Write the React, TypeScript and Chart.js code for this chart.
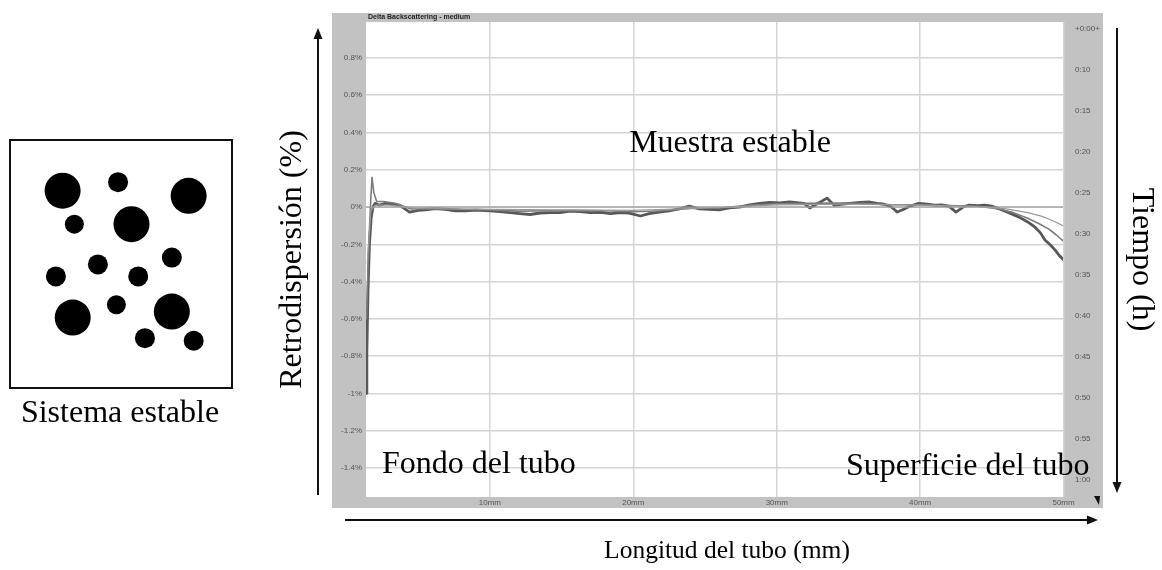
import React, { useEffect, useRef } from "react";
import { Chart, registerables } from "chart.js";

Chart.register(...registerables);

const SERIF = "'Liberation Serif', 'Times New Roman', Times, serif";
const SANS = "'Liberation Sans', Arial, sans-serif";

// ---- axis ticks / labels ----
const backscatterTicks = [0.8, 0.6, 0.4, 0.2, 0, -0.2, -0.4, -0.6, -0.8, -1, -1.2, -1.4];
const lengthTicks = [10, 20, 30, 40, 50];
const timeLabels = ["+0:00+", "0:10", "0:15", "0:20", "0:25", "0:30", "0:35", "0:40", "0:45", "0:50", "0:55", "1:00"];

// ---- scans: tube length (mm) vs delta backscattering (%) ----
const latestScanX = [
  1.36, 1.42, 1.5, 1.6, 1.72, 1.85, 2.0, 2.3, 2.7, 3.2,
  3.7, 4.4, 5.0, 5.5, 6.2, 6.9, 7.6, 8.3, 9.0, 10.0,
  10.7, 11.4, 12.1, 12.8, 13.5, 14.2, 14.9, 15.6, 16.3, 17.0,
  17.7, 18.4, 19.1, 19.7, 20.5, 21.1, 21.8, 22.5, 23.2, 23.9,
  24.6, 25.3, 26.0, 26.7, 27.4, 28.1, 28.8, 29.5, 30.2, 30.9,
  31.4, 31.9, 32.3, 32.9, 33.5, 34.0, 34.5, 35.1, 35.8, 36.5,
  37.0, 37.5, 38.0, 38.4, 38.9, 39.3, 39.9, 40.5, 41.0, 41.5,
  42.0, 42.5, 43.0, 43.4, 44.0, 44.5, 45.0, 45.7, 46.3, 46.9,
  47.5, 48.0, 48.4, 48.7, 49.1, 49.4, 49.7, 49.95,
];
const latestScanY = [
  -1.0, -0.78, -0.45, -0.2, -0.06, 0.0, 0.02, 0.01, 0.02, 0.016,
  0.01, -0.027, -0.018, -0.015, -0.008, -0.012, -0.02, -0.02, -0.016, -0.02,
  -0.025, -0.03, -0.035, -0.04, -0.032, -0.03, -0.03, -0.022, -0.025, -0.03,
  -0.028, -0.035, -0.03, -0.033, -0.048, -0.035, -0.027, -0.02, -0.01, 0.005,
  -0.01, -0.012, -0.015, -0.005, 0.0, 0.012, 0.02, 0.025, 0.022, 0.027,
  0.024, 0.02, -0.005, 0.02, 0.048, 0.01, 0.015, 0.02, 0.025, 0.027,
  0.02, 0.015, 0.0, -0.027, -0.01, 0.005, 0.02, 0.015, 0.01, 0.012,
  0.005, -0.027, 0.0, 0.01, 0.008, 0.01, 0.005, -0.016, -0.035, -0.054,
  -0.08, -0.107, -0.14, -0.177, -0.205, -0.23, -0.26, -0.28,
];
const midScanX = [
  1.4, 1.55, 1.7, 1.78, 1.9, 2.1, 2.6, 3.4, 4.5, 6.0,
  8.0, 10.0, 12.0, 14.0, 16.0, 18.0, 20.0, 22.0, 24.0, 26.0,
  28.0, 30.0, 32.0, 34.0, 36.0, 38.0, 40.0, 42.0, 44.0, 45.5,
  46.5, 47.5, 48.3, 49.0, 49.5, 49.95,
];
const midScanY = [
  -0.6, -0.2, 0.05, 0.16, 0.08, 0.03, 0.03, 0.02, -0.01, -0.005,
  -0.012, -0.015, -0.022, -0.02, -0.018, -0.02, -0.025, -0.02, -0.008, -0.005,
  0.01, 0.018, 0.02, 0.022, 0.02, 0.012, 0.012, 0.008, 0.004, -0.01,
  -0.03, -0.06, -0.09, -0.12, -0.15, -0.18,
];
const earlyScanX = [1.45, 1.7, 2.0, 3.0, 5.0, 10, 15, 20, 25, 30, 35, 40, 44, 46, 47.5, 48.5, 49.3, 49.95];
const earlyScanY = [-0.3, -0.02, 0.01, 0.01, -0.008, -0.012, -0.015, -0.018, -0.005, 0.012, 0.015, 0.01, 0.003, -0.01, -0.03, -0.05, -0.075, -0.1];
const firstScanX = [1.36, 49.95];
const firstScanY = [0, 0];

// ---- left panel particles (x, y in box units, r = size) ----
const particleX = [40, 106, 190, 54, 122, 170, 82, 32, 130, 104, 52, 170, 138, 196];
const particleY = [37, 27, 43, 76, 76, 115, 123, 137, 137, 170, 185, 178, 209, 212];
const particleR = [18, 10, 18, 9.5, 18, 10, 10, 10, 10, 9.5, 18, 18, 10, 10];

const toPoints = (xs: number[], ys: number[]) => xs.map((x, i) => ({ x, y: ys[i] }));

const framePlugin = {
  id: "turbiscanFrame",
  beforeDraw(chart: any) {
    const { ctx, chartArea: a } = chart;
    ctx.save();
    ctx.fillStyle = "#c2c2c2";
    ctx.fillRect(a.left - 34, a.top - 9, a.right - a.left + 74, a.bottom - a.top + 20);
    ctx.fillStyle = "#ffffff";
    ctx.fillRect(a.left, a.top, a.right - a.left, a.bottom - a.top);
    ctx.fillStyle = "#222";
    ctx.font = `bold 7px ${SANS}`;
    ctx.textBaseline = "middle";
    ctx.textAlign = "left";
    ctx.fillText("Delta Backscattering - medium", a.left + 2, a.top - 4.5);
    ctx.restore();
  },
  afterDraw(chart: any) {
    const { ctx, chartArea: a } = chart;
    ctx.save();
    ctx.strokeStyle = "#111";
    ctx.fillStyle = "#111";
    ctx.lineWidth = 2;
    const arrow = (x1: number, y1: number, x2: number, y2: number) => {
      const ang = Math.atan2(y2 - y1, x2 - x1);
      const hl = 11, hw = 4.5;
      ctx.beginPath();
      ctx.moveTo(x1, y1);
      ctx.lineTo(x2 - Math.cos(ang) * hl * 0.8, y2 - Math.sin(ang) * hl * 0.8);
      ctx.stroke();
      ctx.beginPath();
      ctx.moveTo(x2, y2);
      ctx.lineTo(x2 - Math.cos(ang) * hl - Math.sin(ang) * hw, y2 - Math.sin(ang) * hl + Math.cos(ang) * hw);
      ctx.lineTo(x2 - Math.cos(ang) * hl + Math.sin(ang) * hw, y2 - Math.sin(ang) * hl - Math.cos(ang) * hw);
      ctx.closePath();
      ctx.fill();
    };
    arrow(a.left - 48, a.bottom - 2, a.left - 48, a.top + 6);
    arrow(a.right + 54, a.top + 6, a.right + 54, a.bottom - 4);
    arrow(a.left - 21, a.bottom + 23, a.right + 35, a.bottom + 23);
    // small marker at the frame corner
    ctx.beginPath();
    ctx.moveTo(a.right + 31, a.bottom - 1);
    ctx.lineTo(a.right + 37, a.bottom - 1);
    ctx.lineTo(a.right + 36, a.bottom + 8);
    ctx.closePath();
    ctx.fill();
    ctx.restore();
  },
};

function MainChart() {
  const ref = useRef<HTMLCanvasElement | null>(null);
  useEffect(() => {
    if (!ref.current) return;
    const chart = new Chart(ref.current, {
      type: "line",
      data: {
        datasets: [
          { label: "t0", data: toPoints(firstScanX, firstScanY), borderColor: "#a0a0a0", borderWidth: 1.2 },
          { label: "t1", data: toPoints(earlyScanX, earlyScanY), borderColor: "#9a9a9a", borderWidth: 1.2 },
          { label: "t2", data: toPoints(midScanX, midScanY), borderColor: "#7c7c7c", borderWidth: 1.6 },
          { label: "t3", data: toPoints(latestScanX, latestScanY), borderColor: "#585858", borderWidth: 2.8 },
        ],
      },
      options: {
        animation: false,
        responsive: true,
        maintainAspectRatio: false,
        layout: { padding: { left: 270, right: 1, top: 22, bottom: 62 } },
        elements: { point: { radius: 0 }, line: { tension: 0, borderJoinStyle: "round", borderCapStyle: "round" } },
        plugins: { legend: { display: false }, tooltip: { enabled: false } },
        scales: {
          x: {
            type: "linear",
            min: 1.36,
            max: 49.96,
            afterBuildTicks: (axis: any) => {
              axis.ticks = lengthTicks.map((v) => ({ value: v }));
            },
            afterFit: (axis: any) => {
              axis.height = 11;
            },
            ticks: {
              autoSkip: false,
              maxRotation: 0,
              padding: 1,
              color: "#555",
              font: { family: SANS, size: 8 },
              callback: (v: any) => `${v}mm`,
            },
            grid: { color: "#d4d4d4", lineWidth: 1.5, drawTicks: false },
            border: { display: false },
          },
          y: {
            type: "linear",
            position: "left",
            min: -1.556,
            max: 0.993,
            afterBuildTicks: (axis: any) => {
              axis.ticks = backscatterTicks.map((v) => ({ value: v }));
            },
            afterFit: (axis: any) => {
              axis.width = 96;
            },
            ticks: {
              autoSkip: false,
              padding: 4,
              color: "#555",
              font: { family: SANS, size: 8 },
              callback: (v: any) => `${v}%`,
            },
            grid: { color: "#d4d4d4", lineWidth: 1.5, drawTicks: false },
            border: { display: false },
            title: {
              display: true,
              text: "Retrodispersión (%)",
              color: "#000",
              font: { family: SERIF, size: 32, weight: "normal" },
              padding: { top: 3, bottom: 0 },
            },
          },
          y2: {
            type: "linear",
            position: "right",
            reverse: true,
            min: -0.171,
            max: 11.41,
            afterBuildTicks: (axis: any) => {
              axis.ticks = timeLabels.map((_, i) => ({ value: i }));
            },
            afterFit: (axis: any) => {
              axis.width = 98;
            },
            ticks: {
              autoSkip: false,
              padding: 12,
              color: "#555",
              font: { family: SANS, size: 8 },
              callback: (_v: any, i: number) => timeLabels[i],
            },
            grid: { display: false, drawTicks: false },
            border: { display: false },
            title: {
              display: true,
              text: "Tiempo (h)",
              color: "#000",
              font: { family: SERIF, size: 32, weight: "normal" },
              padding: { top: 0, bottom: 0 },
            },
          },
        },
      } as any,
      plugins: [framePlugin],
    });
    return () => chart.destroy();
  }, []);
  return (
    <div style={{ position: "absolute", left: 0, top: 0, width: 1162, height: 570 }}>
      <canvas ref={ref} />
    </div>
  );
}

function ParticleChart() {
  const ref = useRef<HTMLCanvasElement | null>(null);
  useEffect(() => {
    if (!ref.current) return;
    const chart = new Chart(ref.current, {
      type: "bubble",
      data: {
        datasets: [
          {
            label: "particles",
            data: particleX.map((x, i) => ({ x, y: particleY[i], r: particleR[i] })),
            backgroundColor: "#000",
            borderWidth: 0,
            clip: false,
          } as any,
        ],
      },
      options: {
        animation: false,
        responsive: true,
        maintainAspectRatio: false,
        layout: { padding: 0 },
        plugins: { legend: { display: false }, tooltip: { enabled: false } },
        scales: {
          x: { type: "linear", display: false, min: 0, max: 219 },
          y: { type: "linear", display: false, min: 0, max: 245, reverse: true },
        },
      } as any,
    });
    return () => chart.destroy();
  }, []);
  return (
    <div
      style={{
        position: "absolute",
        left: 9,
        top: 139,
        width: 224,
        height: 250,
        border: "2.5px solid #111",
        boxSizing: "border-box",
        background: "#fff",
      }}
    >
      <div style={{ position: "relative", width: "100%", height: "100%" }}>
        <canvas ref={ref} />
      </div>
    </div>
  );
}

const textStyle: React.CSSProperties = {
  position: "absolute",
  fontFamily: SERIF,
  fontSize: 32,
  lineHeight: "32px",
  color: "#000",
  whiteSpace: "nowrap",
};

export default function App() {
  return (
    <div style={{ position: "absolute", left: 0, top: 0, width: 1162, height: 570, background: "#fff", overflow: "hidden" }}>
      <MainChart />
      <ParticleChart />
      <div style={{ ...textStyle, left: 730, top: 125, transform: "translateX(-50%)" }}>Muestra estable</div>
      <div style={{ ...textStyle, left: 382, top: 446 }}>Fondo del tubo</div>
      <div style={{ ...textStyle, left: 846, top: 448 }}>Superficie del tubo</div>
      <div style={{ ...textStyle, left: 120, top: 395, transform: "translateX(-50%)" }}>Sistema estable</div>
      <div style={{ ...textStyle, fontSize: 25.5, lineHeight: "26px", left: 727, top: 537, transform: "translateX(-50%)" }}>Longitud del tubo (mm)</div>
    </div>
  );
}
